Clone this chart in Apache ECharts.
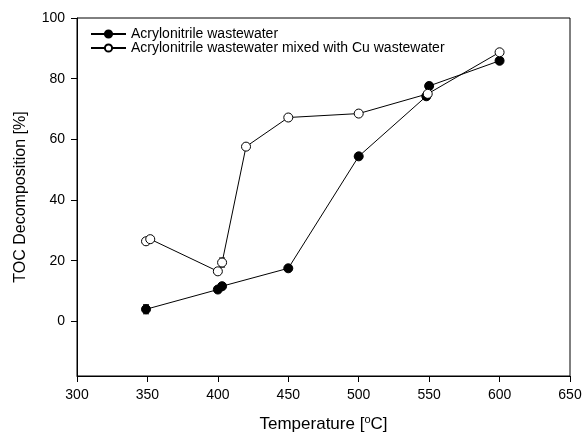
<!DOCTYPE html>
<html>
<head>
<meta charset="utf-8">
<script src="https://cdn.jsdelivr.net/npm/echarts@6/dist/echarts.min.js"></script>
<style>
  html, body { margin: 0; padding: 0; background: #fff; }
  #chart { width: 583px; height: 434px; }
</style>
</head>
<body>
<div id="chart"></div>
<script>
// Acrylonitrile wastewater (filled circles)
const tempPlain = [349, 400, 403, 450, 500, 548, 550, 600]
const tocPlain = [4.0, 10.5, 11.6, 17.5, 54.4, 74.2, 77.6, 85.9]
const errPlain = [1.5, 0.8, 0.8, 0.6, 0.8, 1.0, 1.0, 0.6]

// Acrylonitrile wastewater mixed with Cu wastewater (open circles)
const tempMixed = [349, 352, 400, 403, 420, 450, 500, 549, 600]
const tocMixed = [26.4, 27.1, 16.5, 19.4, 57.6, 67.2, 68.5, 75.0, 88.7]
const errMixed = [0.8, 0.6, 1.0, 1.5, 0.6, 0.6, 0.6, 0.6, 0.6]

const yTicks = [0, 20, 40, 60, 80, 100]

const font = 'Liberation Sans, Arial, sans-serif'

function toPoints(xs, ys) {
  return xs.map((x, i) => [x, ys[i]])
}

function errorSeries(xs, ys, errs) {
  return {
    type: 'custom',
    silent: true,
    z: 1,
    data: xs.map((x, i) => [x, ys[i] - errs[i], ys[i] + errs[i]]),
    renderItem: (params, api) => {
      const lo = api.coord([api.value(0), api.value(1)])
      const hi = api.coord([api.value(0), api.value(2)])
      const w = 3
      const style = { stroke: '#000', lineWidth: 1 }
      return {
        type: 'group',
        children: [
          { type: 'line', shape: { x1: lo[0], y1: lo[1], x2: hi[0], y2: hi[1] }, style },
          { type: 'line', shape: { x1: lo[0] - w, y1: lo[1], x2: lo[0] + w, y2: lo[1] }, style },
          { type: 'line', shape: { x1: hi[0] - w, y1: hi[1], x2: hi[0] + w, y2: hi[1] }, style }
        ]
      }
    }
  }
}

const chart = echarts.init(document.getElementById('chart'), null, { renderer: 'canvas' })

chart.setOption({
  animation: false,
  backgroundColor: '#fff',
  grid: {
    left: 77,
    right: 13,
    top: 18,
    bottom: 58,
    outerBoundsMode: 'none',
    show: true,
    borderColor: '#000',
    borderWidth: 1
  },
  legend: {
    orient: 'vertical',
    left: 85,
    top: 22,
    itemWidth: 35,
    itemHeight: 9,
    itemGap: 0,
    textStyle: { fontFamily: font, fontSize: 14, color: '#000' },
    data: ['Acrylonitrile wastewater', 'Acrylonitrile wastewater mixed with Cu wastewater']
  },
  xAxis: {
    type: 'value',
    min: 300,
    max: 650,
    interval: 50,
    name: 'Temperature [{sup|o}C]',
    nameLocation: 'middle',
    nameGap: 38,
    nameTextStyle: {
      fontFamily: font,
      fontSize: 17,
      color: '#000',
      rich: {
        sup: { fontFamily: font, fontSize: 11, color: '#000', verticalAlign: 'top', padding: [0, 0, 10, 0] }
      }
    },
    axisLine: { onZero: false, lineStyle: { color: '#000', width: 1 } },
    axisTick: { show: true, length: 6, lineStyle: { color: '#000' } },
    axisLabel: { fontFamily: font, fontSize: 14, color: '#000', margin: 12 },
    splitLine: { show: false }
  },
  yAxis: {
    type: 'value',
    min: -18,
    max: 100,
    name: 'TOC Decomposition [%]',
    nameLocation: 'middle',
    nameGap: 48,
    nameRotate: 90,
    nameTextStyle: { fontFamily: font, fontSize: 16, color: '#000' },
    axisLine: { onZero: false, lineStyle: { color: '#000', width: 1 } },
    axisTick: { show: true, length: 6, customValues: yTicks, lineStyle: { color: '#000' } },
    axisLabel: { fontFamily: font, fontSize: 14, color: '#000', margin: 12, customValues: yTicks },
    splitLine: { show: false }
  },
  series: [
    errorSeries(tempPlain, tocPlain, errPlain),
    errorSeries(tempMixed, tocMixed, errMixed),
    {
      name: 'Acrylonitrile wastewater',
      type: 'line',
      z: 3,
      data: toPoints(tempPlain, tocPlain),
      symbol: 'circle',
      symbolSize: 9,
      showAllSymbol: true,
      lineStyle: { color: '#000', width: 1 },
      itemStyle: { color: '#000', borderColor: '#000', borderWidth: 1 }
    },
    {
      name: 'Acrylonitrile wastewater mixed with Cu wastewater',
      type: 'line',
      z: 4,
      data: toPoints(tempMixed, tocMixed),
      symbol: 'circle',
      symbolSize: 9,
      showAllSymbol: true,
      lineStyle: { color: '#000', width: 1 },
      itemStyle: { color: '#fff', borderColor: '#000', borderWidth: 1 }
    }
  ]
})
</script>
</body>
</html>
